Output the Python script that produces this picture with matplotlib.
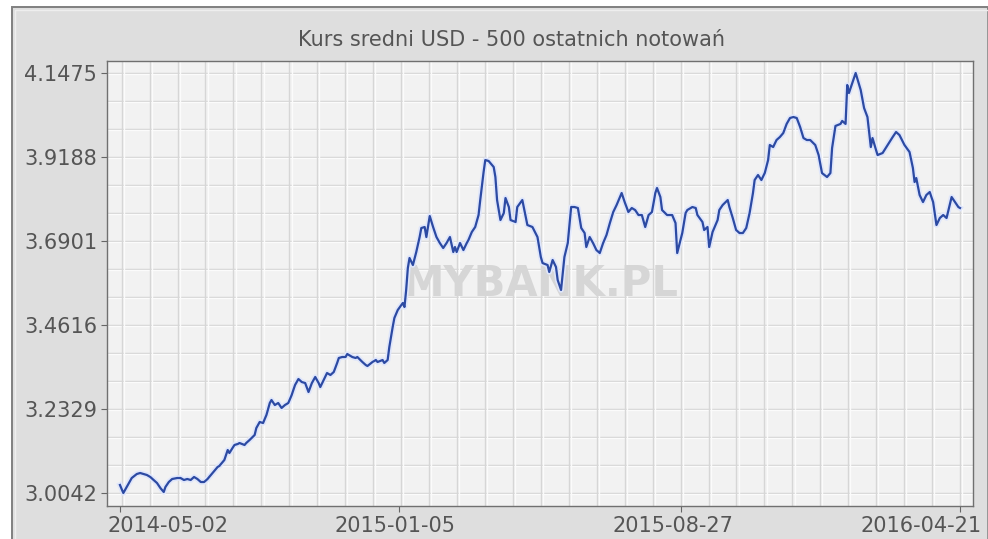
import matplotlib
matplotlib.use("Agg")
import matplotlib.pyplot as plt
from matplotlib.patches import Rectangle
from matplotlib.transforms import ScaledTranslation
import numpy as np

title = "Kurs sredni USD - 500 ostatnich notowań"
watermark = "MYBANK.PL"

session_idx = [
    0, 2, 4, 7, 10, 12, 14, 16, 18, 20, 22, 24, 26, 27, 29, 31, 34, 36, 38, 40,
    42, 44, 46, 48, 50, 52, 54, 56, 58, 59, 62, 64, 65, 68, 70, 71, 74, 75, 77, 80,
    81, 83, 85, 87, 89, 90, 92, 94, 96, 98, 100, 102, 104, 106, 108, 110, 112, 114, 116, 118,
    119, 121, 123, 125, 127, 129, 130, 132, 134, 135, 138, 140, 141, 144, 146, 147, 150, 152, 153, 156,
    157, 159, 160, 162, 163, 165, 168, 169, 170, 171, 172, 174, 176, 178, 179, 181, 182, 184, 186, 188,
    190, 192, 194, 196, 198, 199, 200, 202, 204, 206, 207, 209, 211, 213, 214, 216, 217, 219, 222, 223,
    224, 226, 228, 229, 231, 232, 235, 236, 239, 241, 242, 245, 248, 250, 251, 254, 255, 257, 259, 260,
    262, 264, 266, 268, 270, 272, 274, 276, 277, 279, 281, 283, 285, 287, 289, 291, 293, 295, 298, 300,
    302, 304, 306, 308, 310, 312, 314, 316, 318, 319, 321, 322, 325, 328, 330, 331, 334, 336, 337, 340,
    342, 343, 346, 347, 349, 350, 352, 355, 356, 358, 361, 362, 364, 366, 368, 370, 372, 374, 376, 377,
    379, 381, 383, 385, 386, 388, 390, 392, 394, 396, 398, 400, 402, 404, 406, 408, 410, 413, 415, 417,
    420, 422, 423, 425, 428, 429, 431, 432, 433, 435, 437, 440, 442, 444, 446, 447, 450, 453, 456, 459,
    461, 463, 466, 469, 471, 472, 473, 475, 477, 479, 481, 483, 485, 487, 489, 491, 494, 496, 498, 499,
]

usd_rate = [
    3.0260, 3.0042, 3.0205, 3.0450, 3.0559, 3.0586, 3.0559, 3.0532, 3.0478, 3.0396,
    3.0314, 3.0178, 3.0069, 3.0205, 3.0341, 3.0423, 3.0450, 3.0450, 3.0396, 3.0423,
    3.0396, 3.0478, 3.0423, 3.0341, 3.0341, 3.0423, 3.0532, 3.0641, 3.0750, 3.0777,
    3.0940, 3.1212, 3.1131, 3.1349, 3.1376, 3.1403, 3.1349, 3.1403, 3.1485, 3.1621,
    3.1811, 3.1975, 3.1947, 3.2165, 3.2492, 3.2573, 3.2437, 3.2492, 3.2356, 3.2437,
    3.2492, 3.2710, 3.2982, 3.3145, 3.3063, 3.3036, 3.2791, 3.3036, 3.3200, 3.3036,
    3.2927, 3.3118, 3.3308, 3.3254, 3.3336, 3.3581, 3.3717, 3.3744, 3.3744, 3.3826,
    3.3744, 3.3717, 3.3744, 3.3608, 3.3526, 3.3499, 3.3608, 3.3662, 3.3608, 3.3662,
    3.3581, 3.3662, 3.4016, 3.4561, 3.4806, 3.5023, 3.5214, 3.5105, 3.5568, 3.6167,
    3.6439, 3.6248, 3.6602, 3.7010, 3.7255, 3.7283, 3.7010, 3.7582, 3.7283, 3.7010,
    3.6847, 3.6711, 3.6847, 3.7010, 3.6602, 3.6738, 3.6602, 3.6847, 3.6656, 3.6847,
    3.6929, 3.7147, 3.7283, 3.7609, 3.8017, 3.8780, 3.9106, 3.9079, 3.8916, 3.8644,
    3.8017, 3.7473, 3.7664, 3.8072, 3.7827, 3.7473, 3.7419, 3.7827, 3.8017, 3.7555,
    3.7337, 3.7283, 3.7010, 3.6466, 3.6302, 3.6248, 3.6058, 3.6384, 3.6194, 3.5840,
    3.5568, 3.6466, 3.6847, 3.7827, 3.7827, 3.7800, 3.7255, 3.7119, 3.6738, 3.7010,
    3.6847, 3.6656, 3.6575, 3.6847, 3.7065, 3.7391, 3.7691, 3.7881, 3.8208, 3.7936,
    3.7691, 3.7800, 3.7745, 3.7609, 3.7609, 3.7283, 3.7609, 3.7691, 3.8208, 3.8344,
    3.8099, 3.7745, 3.7609, 3.7609, 3.7391, 3.6575, 3.7119, 3.7664, 3.7745, 3.7827,
    3.7800, 3.7609, 3.7419, 3.7201, 3.7283, 3.6738, 3.7147, 3.7473, 3.7745, 3.7881,
    3.8017, 3.7827, 3.7528, 3.7201, 3.7119, 3.7119, 3.7255, 3.7664, 3.8208, 3.8562,
    3.8698, 3.8562, 3.8752, 3.9106, 3.9515, 3.9460, 3.9651, 3.9733, 3.9841, 4.0089,
    4.0250, 4.0277, 4.0250, 4.0007, 3.9705, 3.9651, 3.9651, 3.9515, 3.9242, 3.8752,
    3.8644, 3.8752, 3.9433, 4.0034, 4.0089, 4.0171, 4.0089, 4.1148, 4.0930, 4.1202,
    4.1475, 4.1012, 4.0522, 4.0277, 3.9460, 3.9705, 3.9242, 3.9297, 3.9515, 3.9733,
    3.9869, 3.9787, 3.9515, 3.9324, 3.8889, 3.8507, 3.8616, 3.8154, 3.7963, 3.8154,
    3.8235, 3.7963, 3.7337, 3.7528, 3.7609, 3.7528, 3.8099, 3.7963, 3.7827, 3.7800,
]

y_ticks = [3.0042, 3.2329, 3.4616, 3.6901, 3.9188, 4.1475]
y_tick_labels = ["3.0042", "3.2329", "3.4616", "3.6901", "3.9188", "4.1475"]
x_ticks = [0, 166, 333, 499]
x_tick_labels = ["2014-05-02", "2015-01-05", "2015-08-27", "2016-04-21"]

W, H = 988, 539
fig = plt.figure(figsize=(W / 100, H / 100), dpi=100)
fig.patch.set_facecolor("white")

# outer panel (background axes below the chart)
bg = fig.add_axes([0, 0, 1, 1], zorder=-10)
bg.set_xlim(0, W)
bg.set_ylim(H, 0)
bg.axis("off")
bg.add_patch(Rectangle((12, 7), W - 12, H, facecolor="#dedede", edgecolor="#808080",
                       linewidth=1.4))
bg.add_patch(Rectangle((15, 10), W - 15, H, facecolor="none", edgecolor="#eeeeee",
                       linewidth=1.0))

ax = fig.add_axes([107 / W, 1 - 506 / H, (973 - 107) / W, (506 - 61) / H], zorder=1)
ax.set_facecolor("#f2f2f2")

ax.set_xlim(-7.7, 506.7)
ax.set_ylim(2.9688, 4.1802)

# grid
minor_y = np.arange(y_ticks[0], y_ticks[-1] + 0.01, (y_ticks[1] - y_ticks[0]) / 3)
for v in minor_y:
    ax.axhline(v, color="#d2d2d2", lw=1.0, zorder=1)
    ax.axhline(v - 0.0035, color="#fbfbfb", lw=1.0, zorder=1)
minor_x = np.arange(1, 507, 16.6)
for v in minor_x:
    ax.axvline(v, color="#d6d6d6", lw=1.0, zorder=1)
    ax.axvline(v + 1.3, color="#fbfbfb", lw=1.0, zorder=1)

ax.text(0.5, 0.5, watermark, transform=ax.transAxes, ha="center", va="center",
        fontsize=30, fontweight="bold", color="#d6d6d6", family="DejaVu Sans", zorder=2)

ax.plot(session_idx, usd_rate, color="#dfe6fb", lw=4.0, zorder=3, solid_joinstyle="round")
ax.plot(session_idx, usd_rate, color="#2c4aa3", lw=1.6, zorder=4, solid_joinstyle="round")

ax.set_yticks(y_ticks)
ax.set_yticklabels(y_tick_labels)
ax.set_xticks(x_ticks)
ax.set_xticklabels(x_tick_labels)
ax.tick_params(axis="both", colors="#666666", labelcolor="#555555", labelsize=15,
               length=4, width=0.8, direction="out")
ax.tick_params(axis="y", pad=3)
ax.tick_params(axis="x", pad=3)

xl = ax.get_xticklabels()
xl[0].set_horizontalalignment("left")
xl[0].set_transform(xl[0].get_transform() + ScaledTranslation(-12 / 100, 0, fig.dpi_scale_trans))
xl[-1].set_horizontalalignment("right")
xl[-1].set_transform(xl[-1].get_transform() + ScaledTranslation(22 / 100, 0, fig.dpi_scale_trans))
xl[1].set_transform(xl[1].get_transform() + ScaledTranslation(-4 / 100, 0, fig.dpi_scale_trans))
xl[2].set_transform(xl[2].get_transform() + ScaledTranslation(-8 / 100, 0, fig.dpi_scale_trans))

for s in ax.spines.values():
    s.set_color("#707070")
    s.set_linewidth(1.0)

fig.text(511 / W, 1 - 40 / H, title, ha="center", va="center", fontsize=15,
         color="#555555")

fig.savefig("out.png", dpi=100, facecolor=fig.get_facecolor())
